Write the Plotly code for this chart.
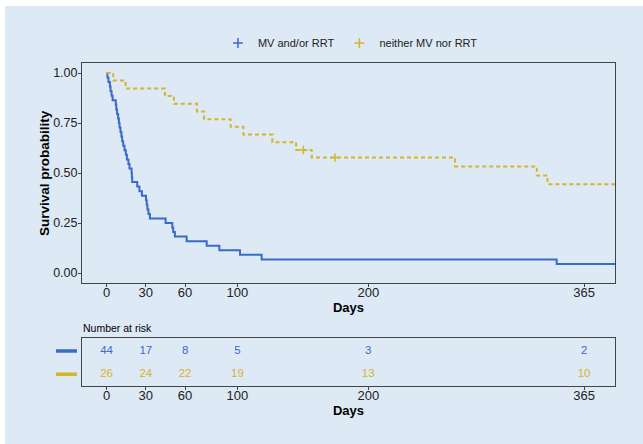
import plotly.graph_objects as go

# ---- data -------------------------------------------------------------
# Kaplan-Meier step curve: MV and/or RRT
mv_days = [0, 0.6, 1.4, 2.5, 3.0, 3.8, 4.6, 7.0, 7.4, 8.0, 8.8, 9.4, 9.9,
           10.6, 11.3, 11.9, 12.7, 13.7, 14.7, 15.5, 16.7, 17.5, 19.1, 19.3,
           19.6, 23.4, 25.1, 27.0, 30.1, 30.7, 31.2, 32.0, 33.1, 45.1, 50.2,
           50.9, 52.2, 61.2, 76.5, 86.2, 102.0, 118.5, 344.0, 389.0]
mv_surv = [1.0, 0.977, 0.955, 0.932, 0.909, 0.886, 0.864, 0.841, 0.818,
           0.795, 0.773, 0.750, 0.727, 0.705, 0.682, 0.659, 0.636, 0.614,
           0.591, 0.568, 0.545, 0.523, 0.500, 0.477, 0.455, 0.432, 0.409,
           0.386, 0.364, 0.341, 0.318, 0.295, 0.273, 0.250, 0.227, 0.205,
           0.182, 0.159, 0.136, 0.114, 0.091, 0.068, 0.045, 0.045]

# Kaplan-Meier step curve: neither MV nor RRT
nei_days = [0, 5.1, 14.5, 44.6, 51.5, 69.0, 74.5, 94.8, 104.5, 126.7, 144.8,
            156.8, 266.3, 328.8, 337.0, 389.0]
nei_surv = [1.0, 0.962, 0.923, 0.885, 0.846, 0.808, 0.769, 0.731, 0.692,
            0.654, 0.615, 0.577, 0.533, 0.488, 0.444, 0.444]
nei_cens_days = [150.4, 174.6]
nei_cens_surv = [0.615, 0.577]

# number-at-risk table
risk_days = [0, 30, 60, 100, 200, 365]
risk_mv = [44, 17, 8, 5, 3, 2]
risk_nei = [26, 24, 22, 19, 13, 10]

x_ticks = [0, 30, 60, 100, 200, 365]
y_ticks = [0, 0.25, 0.5, 0.75, 1.0]
y_ticklabels = ["0.00", "0.25", "0.50", "0.75", "1.00"]

group_names = ["MV and/or RRT", "neither MV nor RRT"]

# ---- style ------------------------------------------------------------
W, H = 643, 444
BG = "#dde9f5"
BLUE = "#3a6bc6"
GOLD = "#d4b52b"
FONT = "Liberation Sans, Arial, Helvetica, sans-serif"
AX = "#444444"


def px_x(p):
    return p / W


def px_y(p):
    return 1 - p / H


fig = go.Figure()

fig.add_trace(go.Scatter(
    x=mv_days, y=mv_surv, mode="lines", line=dict(color=BLUE, width=2, shape="hv"),
    showlegend=False, xaxis="x", yaxis="y"))
fig.add_trace(go.Scatter(
    x=nei_days, y=nei_surv, mode="lines",
    line=dict(color=GOLD, width=2, shape="hv", dash="4px,3px"),
    showlegend=False, xaxis="x", yaxis="y"))
fig.add_trace(go.Scatter(
    x=nei_cens_days, y=nei_cens_surv, mode="markers",
    marker=dict(symbol="cross-thin", size=6, line=dict(color=GOLD, width=1.5)),
    showlegend=False, xaxis="x", yaxis="y"))

# legend keys
for name, col in zip(group_names, [BLUE, GOLD]):
    fig.add_trace(go.Scatter(
        x=[None], y=[None], mode="markers", name=name,
        marker=dict(symbol="cross-thin", size=7, color=col, line=dict(color=col, width=1.5))))

# risk table
fig.add_trace(go.Scatter(
    x=risk_days, y=[2] * len(risk_days), mode="text",
    text=[str(v) for v in risk_mv], textfont=dict(color=BLUE, size=11.5, family=FONT),
    showlegend=False, xaxis="x2", yaxis="y2", cliponaxis=False))
fig.add_trace(go.Scatter(
    x=risk_days, y=[1] * len(risk_days), mode="text",
    text=[str(v) for v in risk_nei], textfont=dict(color=GOLD, size=11.5, family=FONT),
    showlegend=False, xaxis="x2", yaxis="y2", cliponaxis=False))

x_range = [-18.8, 388.6]
x_dom = [px_x(82), px_x(615)]

common_x = dict(range=x_range, domain=x_dom, tickvals=x_ticks, ticks="outside",
                ticklen=3, tickcolor=AX, showline=True, linecolor=AX, linewidth=1,
                mirror=True, showgrid=False, zeroline=False, ticklabelstandoff=-6,
                tickfont=dict(size=13, color="#222222", family=FONT))

fig.update_layout(
    width=W, height=H,
    margin=dict(l=0, r=0, t=0, b=0, autoexpand=False),
    paper_bgcolor="white", plot_bgcolor=BG,
    font=dict(family=FONT, color="#222222"),
    xaxis=dict(**common_x, anchor="y",
               title=dict(text="<b>Days</b>", font=dict(size=13, color="black"), standoff=0)),
    yaxis=dict(range=[-0.05, 1.05], domain=[px_y(283), px_y(63)], anchor="x",
               tickvals=y_ticks, ticktext=y_ticklabels, ticks="outside", ticklen=3,
               tickcolor=AX, showline=True, linecolor=AX, linewidth=1, mirror=True,
               showgrid=False, zeroline=False, ticklabelstandoff=-2,
               tickfont=dict(size=12.5, color="#222222", family=FONT)),
    xaxis2=dict(**common_x, anchor="y2",
                title=dict(text="<b>Days</b>", font=dict(size=13, color="black"), standoff=0)),
    yaxis2=dict(range=[0.5, 2.57], domain=[px_y(386), px_y(337.7)], anchor="x2",
                showticklabels=False, ticks="", showline=True, linecolor=AX,
                linewidth=1, mirror=True, showgrid=False, zeroline=False),
    legend=dict(orientation="h", x=0.545, xanchor="center", y=px_y(43), yanchor="middle",
                bgcolor="rgba(0,0,0,0)", font=dict(size=11, color="#222222", family=FONT),
                itemwidth=30, tracegroupgap=0),
    showlegend=True,
)

# page background (thin white strip on top and left)
fig.add_shape(type="rect", xref="paper", yref="paper", x0=px_x(5), x1=1.0,
              y0=0.0, y1=px_y(6), fillcolor=BG, line=dict(width=0), layer="below")

# colour keys beside the risk table rows
for row, col in [(2, BLUE), (1, GOLD)]:
    fig.add_shape(type="line", xref="paper", yref="y2", x0=px_x(56), x1=px_x(77),
                  y0=row, y1=row, line=dict(color=col, width=3.5))

fig.add_annotation(text="<b>Survival probability</b>", xref="paper", yref="paper",
                   x=px_x(44), y=px_y(173), xanchor="center", yanchor="middle",
                   textangle=-90, showarrow=False,
                   font=dict(size=13.5, color="black", family=FONT))

fig.add_annotation(text="Number at risk", xref="paper", yref="paper",
                   x=px_x(81), y=px_y(328), xanchor="left", yanchor="middle",
                   showarrow=False, font=dict(size=10.5, color="black", family=FONT))

fig.write_html("out.html")
